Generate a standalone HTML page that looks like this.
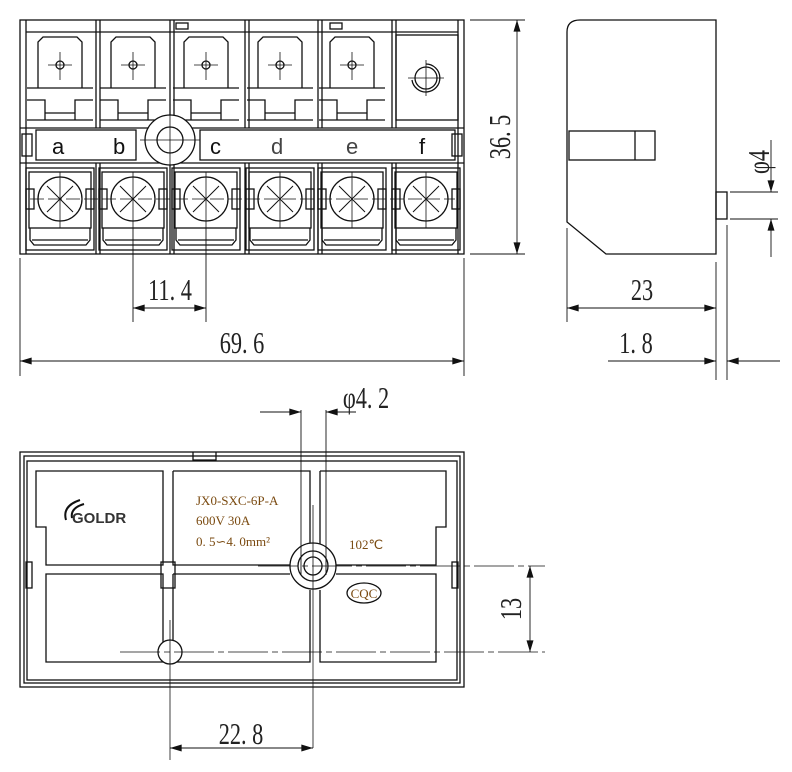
<!DOCTYPE html>
<html><head><meta charset="utf-8"><style>
body{margin:0;background:#fff}
svg{display:block}
.t{font-family:"Liberation Serif","Noto Serif CJK SC",serif;fill:#222;font-size:31px}
.l{font-family:"Liberation Sans",sans-serif;font-size:22px}
.o{font-family:"Liberation Serif",serif;font-size:13px;fill:#7a4a10}
</style></head><body>
<svg width="792" height="772" viewBox="0 0 792 772" xmlns="http://www.w3.org/2000/svg" fill="none" stroke="#111" stroke-width="1.3">
<defs>
<marker id="ar" viewBox="0 0 10 6" refX="10" refY="3" markerWidth="20" markerHeight="7" markerUnits="userSpaceOnUse" orient="auto-start-reverse"><path d="M0,0L10,3L0,6z" fill="#111" stroke="none"/></marker>
<g id="tab">
<path d="M-22,88 L-22,42 L-17,37 L17,37 L22,42 L22,88"/>
<path d="M-33,88 H33 M-33,100 H-15 V120 M33,100 H15 V120 M-15,113 H15 M-33,120 H33"/>
<circle cx="0" cy="65" r="4"/>
<path d="M-12,65 H12 M0,52 V80" stroke-width="0.8"/>
</g>
<g id="scr">
<rect x="-34" y="168" width="68" height="82"/>
<rect x="-31" y="172" width="62" height="56"/>
<circle cx="0" cy="199" r="22"/>
<path d="M-13,186 L13,212 M13,186 L-13,212" stroke-width="1"/>
<path d="M0,172 V228" stroke-width="0.8"/>
<rect x="-34" y="189" width="8" height="20"/><rect x="26" y="189" width="8" height="20"/>
<path d="M-30,228 V240 L-26,245 H26 L30,240 V228 M-28,240 H28"/>
</g>
</defs>

<!-- TOP VIEW -->
<rect x="20" y="20" width="444" height="234"/>
<path d="M26,20 V254 M458,20 V254 M20,128 H464 M20,163 H464"/>
<path d="M96,20 V128 M100,20 V128 M170,20 V115 M174,20 V115 M245,20 V128 M249,20 V128 M318,20 V128 M322,20 V128 M392,20 V128 M396,20 V128"/>
<path d="M96,163 V254 M100,163 V254 M170,163 V254 M174,163 V254 M245,163 V254 M249,163 V254 M318,163 V254 M322,163 V254 M392,163 V254 M396,163 V254"/>
<path d="M26,32 H458"/>
<rect x="176" y="23" width="12" height="6"/><rect x="330" y="23" width="12" height="6"/>
<use href="#tab" x="60"/><use href="#tab" x="133"/><use href="#tab" x="206"/><use href="#tab" x="280"/><use href="#tab" x="352"/>
<rect x="396" y="35" width="62" height="85"/>
<circle cx="426" cy="78" r="11"/><path d="M426,64 A14,14 0 1 1 412,80"/>
<path d="M408,78 H444 M426,60 V96" stroke-width="0.8"/>
<rect x="36" y="130" width="100" height="30"/><rect x="200" y="130" width="255" height="30"/>
<rect x="22" y="134" width="10" height="22"/><rect x="452" y="134" width="10" height="22"/>
<circle cx="170" cy="140" r="25" fill="#fff"/><circle cx="170" cy="140" r="13"/>
<path d="M140,140 H200 M170,110 V170" stroke-width="0.8"/>
<use href="#scr" x="60"/><use href="#scr" x="133"/><use href="#scr" x="206"/><use href="#scr" x="280"/><use href="#scr" x="352"/><use href="#scr" x="426"/>
<path d="M30,199 H455" stroke-width="0.7" stroke-dasharray="14,4"/>
<g stroke="none" class="l" fill="#111">
<text x="52" y="154">a</text><text x="113" y="154">b</text><text x="210" y="154">c</text><text x="271" y="154" fill="#444">d</text><text x="346" y="154" fill="#444">e</text><text x="419" y="154">f</text>
</g>
<!-- dims top -->
<path d="M470,20 H525 M470,254 H525" stroke-width="0.9"/>
<path d="M517,20 V254" stroke-width="0.9" marker-start="url(#ar)" marker-end="url(#ar)"/>
<g stroke="none" transform="translate(510,137) rotate(-90) scale(0.72,1)"><text class="t" text-anchor="middle">36. 5</text></g>
<path d="M133,228 V322 M206,228 V322" stroke-width="0.9"/>
<path d="M133,308 H206" stroke-width="0.9" marker-start="url(#ar)" marker-end="url(#ar)"/>
<g stroke="none" transform="translate(170,300) scale(0.72,1)"><text class="t" text-anchor="middle">11. 4</text></g>
<path d="M20,258 V376 M464,258 V376" stroke-width="0.9"/>
<path d="M20,361 H464" stroke-width="0.9" marker-start="url(#ar)" marker-end="url(#ar)"/>
<g stroke="none" transform="translate(242,353) scale(0.72,1)"><text class="t" text-anchor="middle">69. 6</text></g>

<!-- SIDE VIEW -->
<path d="M567,222 V32 Q567,20 580,20 H716 V254 H606 Z"/>
<rect x="569" y="131" width="86" height="29"/><path d="M635,131 V160"/>
<rect x="716" y="192" width="11" height="27"/>
<path d="M730,192 H778 M730,219 H778" stroke-width="0.9"/>
<path d="M771,140 V192" stroke-width="0.9" marker-end="url(#ar)"/>
<path d="M771,257 V219" stroke-width="0.9" marker-end="url(#ar)"/>
<g stroke="none" transform="translate(769,162) rotate(-90) scale(0.72,1)"><text class="t" text-anchor="middle">φ4</text></g>
<path d="M567,228 V322 M716,262 V380 M727,225 V380" stroke-width="0.9"/>
<path d="M567,308 H716" stroke-width="0.9" marker-start="url(#ar)" marker-end="url(#ar)"/>
<g stroke="none" transform="translate(642,300) scale(0.72,1)"><text class="t" text-anchor="middle">23</text></g>
<path d="M608,361 H716" stroke-width="0.9" marker-end="url(#ar)"/>
<path d="M780,361 H727" stroke-width="0.9" marker-end="url(#ar)"/>
<g stroke="none" transform="translate(636,353) scale(0.72,1)"><text class="t" text-anchor="middle">1. 8</text></g>

<!-- BOTTOM VIEW -->
<rect x="20" y="452" width="444" height="235"/>
<rect x="24" y="456" width="436" height="227"/>
<path d="M193,452 V460 H216 V452"/>
<rect x="27" y="461" width="430" height="219"/>
<path d="M36,471 H163 V565 H46 V527 H36 Z"/>
<path d="M173,471 H310 V546 M173,471 V565 H290"/>
<path d="M320,471 H446 V527 H436 V565 H336 M320,471 V546"/>
<path d="M46,574 H163 V662 H46 Z"/>
<path d="M173,574 H290 M310,590 V662 H173 V574" />
<path d="M336,574 H436 V662 H320 V590"/>
<rect x="161" y="562" width="14" height="26"/>
<rect x="26" y="562" width="6" height="26"/><rect x="452" y="562" width="6" height="26"/>
<circle cx="313" cy="566" r="23" fill="#fff"/><circle cx="313" cy="566" r="15"/><circle cx="313" cy="566" r="9"/>
<circle cx="170" cy="652" r="12" fill="#fff"/>
<path d="M258,566 H545 M120,652 H545" stroke-width="0.8" stroke-dasharray="40,4,6,4"/>
<path d="M313,505 V748 M170,620 V760" stroke-width="0.8"/>
<path d="M301,410 V575 M326,410 V575" stroke-width="0.9"/>
<path d="M260,412 H301" stroke-width="0.9" marker-end="url(#ar)"/>
<path d="M356,412 H326" stroke-width="0.9" marker-end="url(#ar)"/>
<g stroke="none" transform="translate(366,408) scale(0.72,1)"><text class="t" text-anchor="middle">φ4. 2</text></g>
<path d="M530,566 V652" stroke-width="0.9" marker-start="url(#ar)" marker-end="url(#ar)"/>
<g stroke="none" transform="translate(521,609) rotate(-90) scale(0.72,1)"><text class="t" text-anchor="middle">13</text></g>
<path d="M170,748 H313" stroke-width="0.9" marker-start="url(#ar)" marker-end="url(#ar)"/>
<g stroke="none" transform="translate(241,744) scale(0.72,1)"><text class="t" text-anchor="middle">22. 8</text></g>
<g stroke="none">
<text class="o" x="196" y="505">JX0-SXC-6P-A</text>
<text class="o" x="196" y="525">600V  30A</text>
<text class="o" x="196" y="546">0. 5∽4. 0mm²</text>
<text class="o" x="349" y="549">102℃</text>
<text x="72" y="523" font-family="Liberation Sans,sans-serif" font-weight="bold" font-size="15" fill="#333">GOLDR</text>
</g>
<path d="M80,500 Q62,506 66,520 M84,504 Q70,508 72,518" stroke-width="2"/>
<ellipse cx="364" cy="593" rx="17" ry="10"/>
<text class="o" x="364" y="598" text-anchor="middle" stroke="none">CQC</text>
</svg>
</body></html>
